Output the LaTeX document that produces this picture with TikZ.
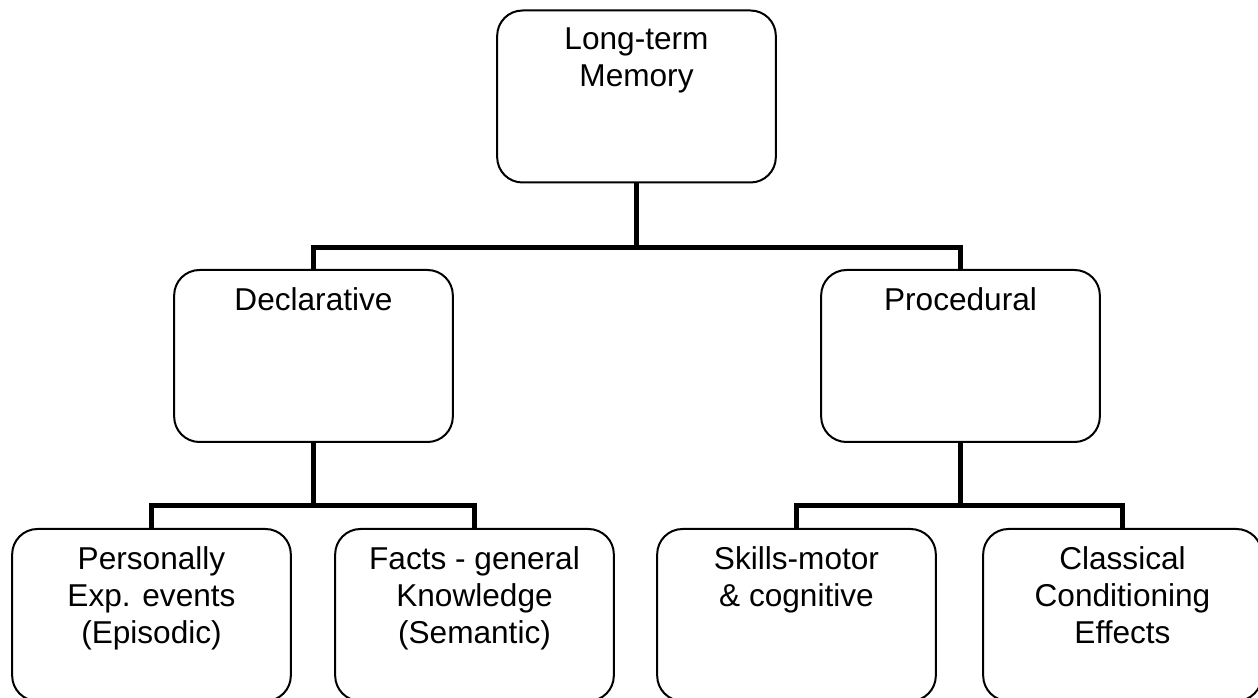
\documentclass[tikz,border=0pt]{standalone}
\usepackage{fontspec}
\setmainfont{Liberation Sans}
\usetikzlibrary{positioning, calc}

\begin{document}
\begin{tikzpicture}[
  x=0.75pt, y=-0.75pt,
  font=\fontsize{23.7}{28}\selectfont,
  memoire/.style={
    draw=black,
    line width=1.5pt,
    rounded corners=19pt,
    minimum width=209pt,
    minimum height=129pt,
    inner sep=0pt
  },
  titre/.style={
    anchor=north,
    align=center,
    inner sep=0pt,
    yshift=-13.5pt,
    text=black
  },
  lien/.style={
    line width=3.75pt,
    draw=black
  }
]
  \useasboundingbox (0,0) rectangle (1258,698);

  % Niveau 1
  \node[memoire] (ltm) at (636.5,96.5) {};

  % Niveau 2
  \node[memoire] (decl) at (313.5,356) {};
  \node[memoire] (proc) at (960.5,356) {};

  % Niveau 3
  \node[memoire] (epis) at (151.5,615) {};
  \node[memoire] (sema) at (474.5,615) {};
  \node[memoire] (skil) at (796.5,615) {};
  \node[memoire] (clas) at (1122.5,615) {};

  % Textes
  \node[titre] (ltm-t) at (ltm.north) {Long-term\\Memory};
  \node[titre] (decl-t) at (decl.north) {Declarative};
  \node[titre] (proc-t) at (proc.north) {Procedural};
  \node[titre] (epis-t) at (epis.north) {Personally\\Exp. events\\(Episodic)};
  \node[titre] (sema-t) at (sema.north) {Facts - general\\Knowledge\\(Semantic)};
  \node[titre] (skil-t) at (skil.north) {Skills-motor\\\& cognitive};
  \node[titre] (clas-t) at (clas.north) {Classical\\Conditioning\\Effects};

  % Liens
  \draw[lien] (ltm.south) -- ++(0,64) coordinate (b1) -| (decl.north);
  \draw[lien] (b1) -| (proc.north);
  \draw[lien] (decl.south) -- ++(0,63) coordinate (b2) -| (epis.north);
  \draw[lien] (b2) -| (sema.north);
  \draw[lien] (proc.south) -- ++(0,63) coordinate (b3) -| (skil.north);
  \draw[lien] (b3) -| (clas.north);
\end{tikzpicture}
\end{document}
